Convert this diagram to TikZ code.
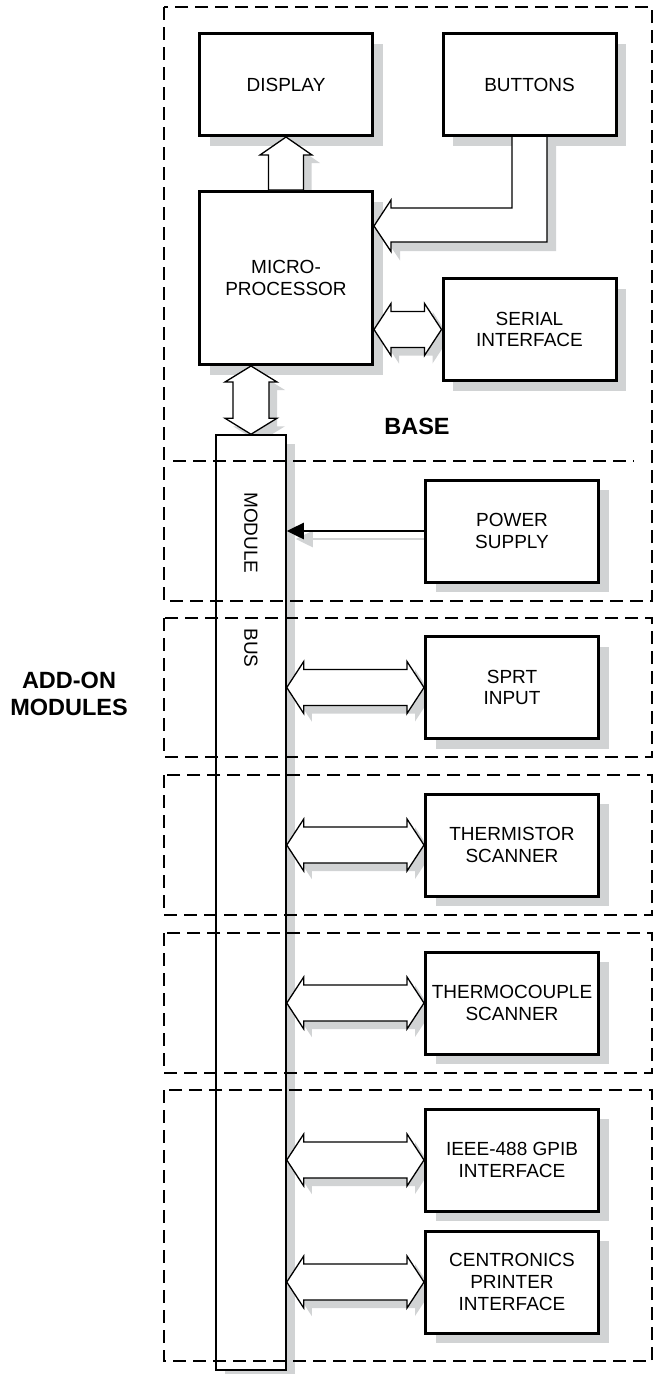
\documentclass[tikz,border=0pt]{standalone}
\usepackage{fontspec}
\setmainfont{Liberation Sans}
\usetikzlibrary{calc,shadows,arrows.meta,backgrounds}
\definecolor{shadowgray}{HTML}{D1D3D4}
% double horizontal block arrow: style, left tip, right tip, dx, dy
\newcommand\dblH[5]{%
 \path[#1] let \p1=($(#2)+(#4,#5)$), \p2=($(#3)+(#4,#5)$) in
 (\x1,\y1) -- (\x1+17pt,\y1+26pt) -- (\x1+17pt,\y1+18pt) -- (\x2-17pt,\y2+18pt)
 -- (\x2-17pt,\y2+26pt) -- (\x2,\y2) -- (\x2-17pt,\y2-26pt) -- (\x2-17pt,\y2-18pt)
 -- (\x1+17pt,\y1-18pt) -- (\x1+17pt,\y1-26pt) -- cycle;}
% double vertical block arrow: style, top tip, bottom tip, dx, dy
\newcommand\dblV[5]{%
 \path[#1] let \p1=($(#2)+(#4,#5)$), \p2=($(#3)+(#4,#5)$) in
 (\x1,\y1) -- (\x1+26pt,\y1-16pt) -- (\x1+18pt,\y1-16pt) -- (\x2+18pt,\y2+16pt)
 -- (\x2+26pt,\y2+16pt) -- (\x2,\y2) -- (\x2-26pt,\y2+16pt) -- (\x2-18pt,\y2+16pt)
 -- (\x1-18pt,\y1-16pt) -- (\x1-26pt,\y1-16pt) -- cycle;}
% single upward block arrow: style, base, tip, dx, dy
\newcommand\upArr[5]{%
 \path[#1] let \p1=($(#2)+(#4,#5)$), \p2=($(#3)+(#4,#5)$) in
 (\x1-17.5pt,\y1) -- (\x1-17.5pt,\y2-18pt) -- (\x1-26pt,\y2-18pt) -- (\x2,\y2)
 -- (\x1+26pt,\y2-18pt) -- (\x1+17.5pt,\y2-18pt) -- (\x1+17.5pt,\y1) -- cycle;}
% bent block arrow from buttons: style, source (buttons.south), tip, dx, dy
\newcommand\bentArr[5]{%
 \path[#1] let \p1=($(#2)+(#4,#5)$), \p2=($(#3)+(#4,#5)$) in
 (\x1-17.5pt,\y1) -- (\x1-17.5pt,\y2+18pt) -- (\x2+17pt,\y2+18pt) -- (\x2+17pt,\y2+26pt)
 -- (\x2,\y2) -- (\x2+17pt,\y2-25.5pt) -- (\x2+17pt,\y2-16pt) -- (\x1+17.5pt,\y2-16pt)
 -- (\x1+17.5pt,\y1);}
\begin{document}
\begin{tikzpicture}[x=1pt,y=-1pt,
  blk/.style={draw, line width=3pt, fill=white, inner sep=1pt, align=center,
    font=\fontsize{19}{21.7}\selectfont, minimum width=173pt, minimum height=102pt,
    drop shadow={shadow xshift=10pt, shadow yshift=-10pt, fill=shadowgray, draw=none, opacity=1}},
  zone/.style={line width=1.4pt, dash pattern=on 13pt off 7pt},
  barrow/.style={draw=black, fill=white, line width=1.3pt, line join=miter},
  sarrow/.style={fill=shadowgray, draw=none},
  lbl/.style={font=\fontsize{19}{21.7}\selectfont, inner sep=0pt},
  title/.style={font=\bfseries\fontsize{23.5}{27}\selectfont, align=center, inner sep=0pt}
]
\useasboundingbox (0,0) rectangle (654,1374);

% module bus
\node[draw, line width=1.5pt, fill=white, minimum width=70pt, minimum height=935pt, inner sep=0pt,
  drop shadow={shadow xshift=9pt, shadow yshift=-9pt, fill=shadowgray, draw=none, opacity=1}]
  (bus) at (251,902.5) {};

% dashed zones
\draw[zone] (164,7) rectangle (652,601);
\draw[zone] (173,461) -- (634,461);
\draw[zone] (164,618) rectangle (652,757);
\draw[zone] (164,775) rectangle (652,915);
\draw[zone] (164,933) rectangle (652,1073);
\draw[zone] (164,1090) rectangle (652,1361);

% blocks
\node[blk] (display) at (286,84.5) {DISPLAY};
\node[blk] (buttons) at (529.5,84.5) {BUTTONS};
\node[blk, minimum height=173pt] (micro) at (286,278) {MICRO-\\PROCESSOR};
\node[blk] (serial) at (529.5,329.5) {SERIAL\\INTERFACE};
\node[blk] (power) at (512,531) {POWER\\SUPPLY};
\node[blk] (sprt) at (512,687.5) {SPRT\\INPUT};
\node[blk] (thermistor) at (512,845) {THERMISTOR\\SCANNER};
\node[blk] (thermocouple) at (512,1003) {THERMOCOUPLE\\SCANNER};
\node[blk] (gpib) at (512,1160) {IEEE-488 GPIB\\INTERFACE};
\node[blk] (centronics) at (512,1282) {CENTRONICS\\PRINTER\\INTERFACE};

\coordinate (btip) at ([yshift=52pt]micro.east);

% arrow shadows
\begin{scope}[on background layer]
  \upArr{sarrow}{micro.north}{display.south}{8pt}{-8pt}
  \bentArr{sarrow}{buttons.south}{btip}{9pt}{-9pt}
  \dblH{sarrow}{micro.east |- serial.west}{serial.west}{8pt}{-8pt}
  \dblV{sarrow}{bus.north |- micro.south}{bus.north}{8pt}{-8pt}
  \dblH{sarrow}{bus.east |- sprt.west}{sprt.west}{8pt}{-8pt}
  \dblH{sarrow}{bus.east |- thermistor.west}{thermistor.west}{8pt}{-8pt}
  \dblH{sarrow}{bus.east |- thermocouple.west}{thermocouple.west}{8pt}{-8pt}
  \dblH{sarrow}{bus.east |- gpib.west}{gpib.west}{8pt}{-8pt}
  \dblH{sarrow}{bus.east |- centronics.west}{centronics.west}{8pt}{-8pt}
  \draw[draw=shadowgray, fill=shadowgray, line width=2.5pt, -{Triangle[length=17pt,width=16pt]}]
    ($(power.west)+(9pt,-8pt)$) -- ($(bus.east |- power.west)+(9pt,-8pt)$);
\end{scope}

% arrows
\upArr{barrow}{micro.north}{display.south}{0pt}{0pt}
\bentArr{barrow}{buttons.south}{btip}{0pt}{0pt}
\dblH{barrow}{micro.east |- serial.west}{serial.west}{0pt}{0pt}
\dblV{barrow}{bus.north |- micro.south}{bus.north}{0pt}{0pt}
\dblH{barrow}{bus.east |- sprt.west}{sprt.west}{0pt}{0pt}
\dblH{barrow}{bus.east |- thermistor.west}{thermistor.west}{0pt}{0pt}
\dblH{barrow}{bus.east |- thermocouple.west}{thermocouple.west}{0pt}{0pt}
\dblH{barrow}{bus.east |- gpib.west}{gpib.west}{0pt}{0pt}
\dblH{barrow}{bus.east |- centronics.west}{centronics.west}{0pt}{0pt}
\draw[line width=2.5pt, -{Triangle[length=17pt,width=16pt]}] (power.west) -- (bus.east |- power.west);

% labels
\node[lbl, rotate=-90] (modlbl) at (251,533) {MODULE};
\node[lbl, rotate=-90] (buslbl) at (251,648) {BUS};
\node[title] (baselbl) at (417,426) {BASE};
\node[title] (addon) at (69,694) {ADD-ON\\MODULES};
\end{tikzpicture}
\end{document}
